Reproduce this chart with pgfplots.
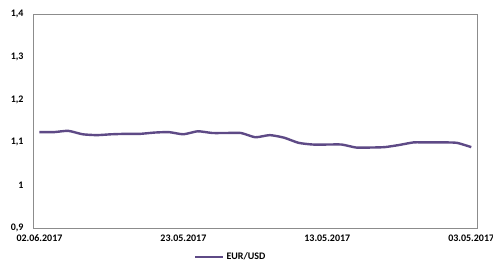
\documentclass[border=0pt]{standalone}
\usepackage{fontspec}
\setmainfont{Carlito}
\usepackage{pgfplots}
\pgfplotsset{compat=1.18}
\definecolor{lineP}{HTML}{5E4A86}
\definecolor{frameG}{HTML}{8C8C8C}
\begin{document}
\begin{tikzpicture}
\begin{axis}[
  name=ax,
  scale only axis,
  width=444.7bp, height=214bp,
  xmin=-0.45, xmax=30.45,
  ymin=0.9, ymax=1.4,
  axis line style={frameG, line width=0.8bp},
  xtick={0,10,20,30},
  xticklabels={02.06.2017,23.05.2017,13.05.2017,03.05.2017},
  ytick={0.9,1,1.1,1.2,1.3,1.4},
  yticklabels={{0,9},{1},{1,1},{1,2},{1,3},{1,4}},
  major tick length=0pt,
  tick label style={font=\fontsize{10bp}{11bp}\selectfont\bfseries, text=black},
  xticklabel style={yshift=-3bp},
  yticklabel style={xshift=-6bp},
  legend style={draw=none, fill=none, at={(0.362,-0.1355)}, anchor=west,
    font=\fontsize{10bp}{11bp}\selectfont\bfseries, inner sep=0pt,
    /tikz/every even column/.append style={column sep=0pt}},
  legend image code/.code={\draw[#1, line width=2.4bp] (0bp,0bp) -- (28bp,0bp);},
  legend cell align=left,
]
\addplot[lineP, line width=2.4bp, smooth, tension=0.35] coordinates {
(0,1.124) (1,1.124) (2,1.127) (3,1.119) (4,1.117) (5,1.119) (6,1.120) (7,1.120)
(8,1.123) (9,1.124) (10,1.119) (11,1.126) (12,1.122) (13,1.122) (14,1.122)
(15,1.112) (16,1.117) (17,1.111) (18,1.099) (19,1.095) (20,1.095) (21,1.095)
(22,1.088) (23,1.088) (24,1.089) (25,1.094) (26,1.100) (27,1.100) (28,1.100)
(29,1.099) (30,1.089)
};
\addlegendentry{EUR/USD}
\end{axis}
\pgfresetboundingbox
\path ([shift={(-33bp,-36bp)}]ax.south west) rectangle ([shift={(15.3bp,14bp)}]ax.north east);
\end{tikzpicture}
\end{document}
